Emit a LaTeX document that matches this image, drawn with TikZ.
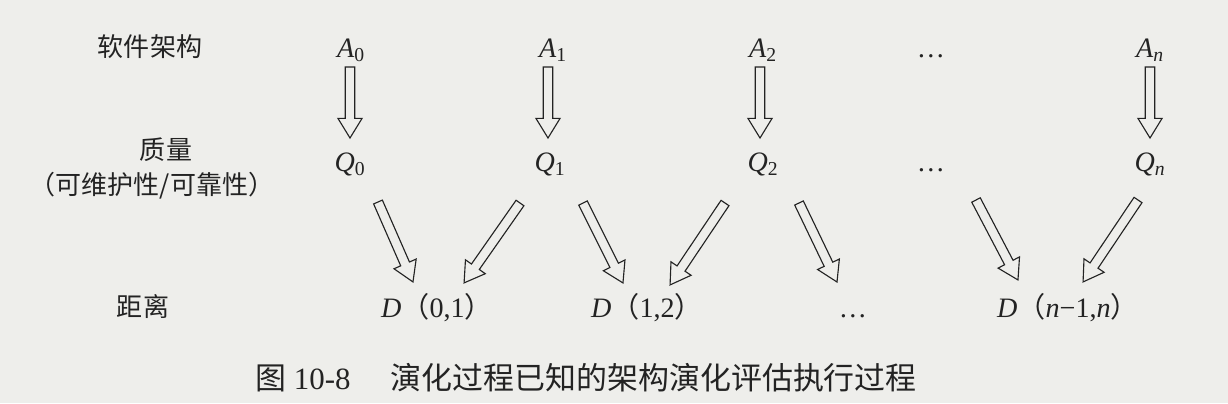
\documentclass[tikz,border=0pt]{standalone}
\usepackage{fontspec}
\setmainfont{Liberation Serif}
\newfontfamily\cjk{Noto Sans CJK SC}
\usetikzlibrary{calc}
\definecolor{bgc}{RGB}{238,238,235}
\definecolor{ink}{RGB}{35,35,35}
\newcommand\harrow[2]{%
  \path let \p1=(#1), \p2=(#2),
    \n1={atan2(\y2-\y1,\x2-\x1)}, \n2={veclen(\x2-\x1,\y2-\y1)} in
    \pgfextra{\xdef\harAng{\n1}\xdef\harLen{\n2}\xdef\harX{\x1}\xdef\harY{\y1}};
  \draw[hollow, shift={(\harX,\harY)}, rotate=\harAng]
    (0pt,-3.4pt) -- ({\harLen-14pt},-3.4pt) -- ({\harLen-14pt},-8.6pt)
    -- (\harLen,0pt) -- ({\harLen-14pt},8.6pt) -- ({\harLen-14pt},3.4pt)
    -- (0pt,3.4pt) -- cycle;}
\begin{document}
\begin{tikzpicture}[x=0.025cm,y=-0.025cm,
  cn/.style={font=\cjk\fontsize{18.5}{20}\selectfont, text=ink, inner sep=0pt},
  lt/.style={font=\fontsize{20}{22}\selectfont, text=ink, inner sep=0pt, anchor=base},
  captext/.style={font=\fontsize{22}{24}\selectfont, text=ink, inner sep=0pt},
  hollow/.style={draw=ink, line width=0.8pt, fill=bgc, line join=miter}]
\useasboundingbox (0,0) rectangle (1228,403);
\fill[bgc] (0,0) rectangle (1228,403);
% row labels
\node[cn] (lA) at (150,47) {软件架构};
\node[cn] (lQ) at (166,150) {质量};
\node[cn] (lQb) at (152,186) {（可维护性/可靠性）};
\node[cn] (lD) at (143,307) {距离};
% architectures
\node[lt] (A0) at (351,57) {\textit{A}\textsubscript{0}};
\node[lt] (A1) at (553,57) {\textit{A}\textsubscript{1}};
\node[lt] (A2) at (763,57) {\textit{A}\textsubscript{2}};
\node[lt] (Ad) at (931,57) {\ldots};
\node[lt] (An) at (1150,57) {\textit{A}\textsubscript{\textit{n}}};
% qualities
\node[lt] (Q0) at (350,171) {\textit{Q}\textsubscript{0}};
\node[lt] (Q1) at (550,171) {\textit{Q}\textsubscript{1}};
\node[lt] (Q2) at (763,171) {\textit{Q}\textsubscript{2}};
\node[lt] (Qd) at (931,171) {\ldots};
\node[lt] (Qn) at (1150,171) {\textit{Q}\textsubscript{\textit{n}}};
% distances
\node[lt] (D01) at (437,317) {\textit{D}{\cjk （}0,1{\cjk ）}};
\node[lt] (D12) at (647,317) {\textit{D}{\cjk （}1,2{\cjk ）}};
\node[lt] (Dd) at (853,317) {\ldots};
\node[lt] (Dn) at (1068,317) {\textit{D}{\cjk （}\textit{n}−1,\textit{n}{\cjk ）}};
% caption
\node[captext, anchor=west] (cap) at (255,378) {{\cjk 图}\hspace{0.25em}10-8\hspace{1.3em}{\cjk 演化过程已知的架构演化评估执行过程}};
% arrow ends
\coordinate (a0s) at (350,67);  \coordinate (q0e) at (350,138);
\coordinate (a1s) at (548,67);  \coordinate (q1e) at (548,138);
\coordinate (a2s) at (760,67);  \coordinate (q2e) at (760,138);
\coordinate (ans) at (1150,67); \coordinate (qne) at (1150,138);
\coordinate (q0t) at (378,202);  \coordinate (d01a) at (413,282);
\coordinate (q1t) at (520,203);  \coordinate (d01b) at (464,283);
\coordinate (q1u) at (583,203);  \coordinate (d12a) at (623,283);
\coordinate (q2t) at (725,203);  \coordinate (d12b) at (670,285);
\coordinate (q2u) at (799,203);  \coordinate (dda)  at (837,282);
\coordinate (qdt) at (976,200);  \coordinate (dna)  at (1018,280);
\coordinate (qnt) at (1138,200); \coordinate (dnb)  at (1083,282);
\harrow{a0s}{q0e}
\harrow{a1s}{q1e}
\harrow{a2s}{q2e}
\harrow{ans}{qne}
\harrow{q0t}{d01a}
\harrow{q1t}{d01b}
\harrow{q1u}{d12a}
\harrow{q2t}{d12b}
\harrow{q2u}{dda}
\harrow{qdt}{dna}
\harrow{qnt}{dnb}
\end{tikzpicture}
\end{document}
